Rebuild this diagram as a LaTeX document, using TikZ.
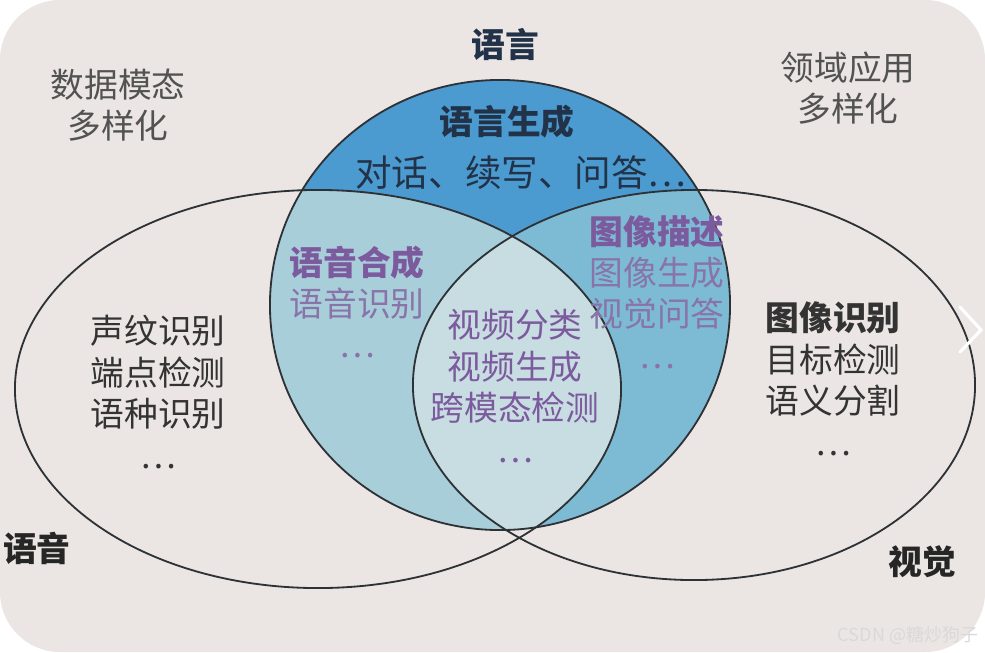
\documentclass[tikz,border=0pt]{standalone}
\usepackage{fontspec}
\setmainfont{Noto Sans CJK SC}
\newfontfamily\cjk{Noto Sans CJK SC}
\definecolor{bgc}{HTML}{EBE6E3}
\definecolor{topblue}{HTML}{4B9BD0}
\definecolor{midblue}{HTML}{7DBBD5}
\definecolor{lightblue}{HTML}{A8CEDA}
\definecolor{paleblue}{HTML}{C8DDE1}
\definecolor{edgec}{HTML}{2E3236}
\definecolor{txt}{HTML}{333333}
\definecolor{navy}{HTML}{223349}
\definecolor{purp}{HTML}{7C5A9E}
\definecolor{lpurp}{HTML}{8874A8}
\definecolor{wm}{HTML}{D9D9D9}
\begin{document}
\begin{tikzpicture}[x=0.025cm,y=-0.025cm,
  edge/.style={draw=edgec,line width=1.3pt},
  lbl/.style={font=\cjk\fontsize{24}{29.5}\selectfont,align=center,inner sep=0pt,text=txt},
  bl/.style={lbl,font=\cjk\bfseries\fontsize{24}{29.5}\selectfont}]
\useasboundingbox (0,0) rectangle (985,652);
\fill[white] (0,0) rectangle (985,652);
\fill[bgc,rounded corners=1.5cm] (0,0) rectangle (985,652);
\def\pathT{(500,305) ellipse [x radius=5.75cm, y radius=5.625cm]}
\def\pathL{(318,389) ellipse [x radius=7.575cm, y radius=4.975cm]}
\def\pathR{(694,385) ellipse [x radius=7.025cm, y radius=4.875cm]}
\fill[topblue] \pathT;
\begin{scope}
  \clip \pathT;
  \fill[midblue] \pathR;
  \fill[lightblue] \pathL;
  \clip \pathL;
  \fill[paleblue] \pathR;
\end{scope}
\draw[edge] \pathT;
\draw[edge] \pathL;
\draw[edge] \pathR;
% labels
\node[bl,text=navy] (lang) at (505,45) {语言};
\node[lbl,text=txt!85] (data) at (118,105) {数据模态\\多样化};
\node[lbl,text=txt!85] (dom) at (848,88) {领域应用\\多样化};
\node[bl,text=navy] (gen) at (507,122) {语言生成};
\node[lbl,text=navy,font=\cjk\fontsize{26}{30}\selectfont] (dlg) at (521,173) {对话、续写、问答…};
\node[lbl,text=lpurp] (sp) at (357,302) {\textbf{\color{purp}语音合成}\\语音识别\\…};
\node[lbl,text=lpurp] (img) at (657,292) {\textbf{\color{purp}图像描述}\\图像生成\\视觉问答\\…};
\node[lbl,text=purp] (vid) at (515,386) {视频分类\\视频生成\\跨模态检测\\…};
\node[lbl] (voice) at (158,392) {声纹识别\\端点检测\\语种识别\\…};
\node[lbl] (vis) at (833,379) {\textbf{图像识别}\\目标检测\\语义分割\\…};
\node[bl,text=black!85] (yy) at (37,548) {语音};
\node[bl,text=black!85] (sj) at (922,562) {视觉};
\node[font=\cjk\fontsize{12.8}{14}\selectfont,text=wm,inner sep=0pt] (wmk) at (908,635) {CSDN @糖炒狗子};
\draw[white,line width=2.2pt,line cap=round] (960,307) -- (981,330) -- (960,352);
\end{tikzpicture}
\end{document}
